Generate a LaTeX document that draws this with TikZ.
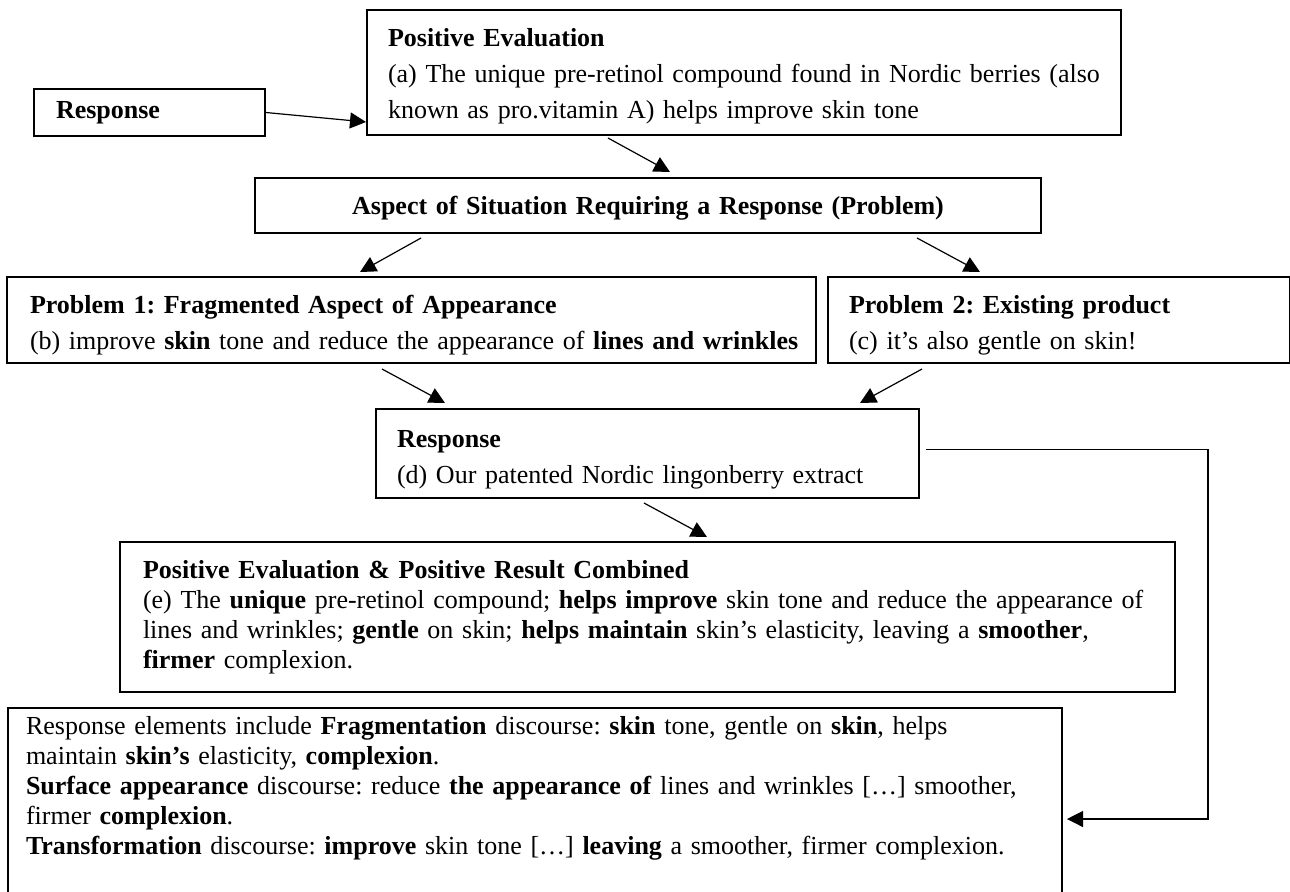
\documentclass[tikz,border=0pt]{standalone}
\usepackage{fontspec}
\setmainfont{Liberation Serif}
\frenchspacing
\usetikzlibrary{calc,arrows.meta}

\tikzset{
  box/.style={draw, line width=1pt, anchor=north west, align=left,
    inner ysep=0pt, font=\fontsize{13pt}{18pt}\selectfont},
  lowbox/.style={box, font=\fontsize{13pt}{15pt}\selectfont},
  link/.style={-{Triangle[length=8pt,width=8pt]}, line width=0.6pt},
}

\begin{document}
\begin{tikzpicture}[x=0.5pt, y=-0.5pt]
  \useasboundingbox (0,0) rectangle (1290,891);

  % the boxes
  \node [box, inner xsep=11pt, text width=93.5pt, text height=14.5pt, text depth=9pt]
    (resp-0) at (33,88) {\textbf{Response}};
  \node [box, inner xsep=10.5pt, text width=356pt, text height=18pt, text depth=44.5pt]
    (pos-eval) at (366,9) {\textbf{Positive Evaluation}\\
      \mbox{(a) The unique pre-retinol compound found in Nordic berries (also}\\
      known as pro.vitamin A) helps improve skin tone};
  \node [box, align=center, inner xsep=10pt, text width=373pt, text height=18pt, text depth=9.5pt]
    (aspect) at (254,177) {\textbf{Aspect of Situation Requiring a Response (Problem)}};
  \node [box, inner xsep=11.5pt, text width=381.5pt, text height=18pt, text depth=25pt]
    (problem-1) at (6,276) {\textbf{Problem 1: Fragmented Aspect of Appearance}\\
      \mbox{(b) improve \textbf{skin} tone and reduce the appearance of \textbf{lines and wrinkles}}};
  \node [box, inner xsep=10.5pt, text width=210pt, text height=18pt, text depth=25pt]
    (problem-2) at (827,276) {\textbf{Problem 2: Existing product}\\
      (c) it’s also gentle on skin!};
  \node [box, inner xsep=10.5pt, text width=250.5pt, text height=19pt, text depth=25.5pt]
    (resp-d) at (375,408) {\textbf{Response}\\
      (d) Our patented Nordic lingonberry extract};
  \node [lowbox, inner xsep=11.5pt, text width=504.5pt, text height=18pt, text depth=57pt]
    (combined) at (119,541) {\textbf{Positive Evaluation \& Positive Result Combined}\\
      \mbox{(e) The \textbf{unique} pre-retinol compound; \textbf{helps improve} skin tone and reduce the appearance of}\\
      \mbox{lines and wrinkles; \textbf{gentle} on skin; \textbf{helps maintain} skin’s elasticity, leaving a \textbf{smoother},}\\
      \textbf{firmer} complexion.};
  \node [lowbox, inner xsep=9pt, text width=509pt, text height=13pt, text depth=100pt]
    (elements) at (7,707) {\mbox{Response elements include \textbf{Fragmentation} discourse: \textbf{skin} tone, gentle on \textbf{skin}, helps}\\
      maintain \textbf{skin’s} elasticity, \textbf{complexion}.\\
      \mbox{\textbf{Surface appearance} discourse: reduce \textbf{the appearance of} lines and wrinkles […] smoother,}\\
      firmer \textbf{complexion}.\\
      \mbox{\textbf{Transformation} discourse: \textbf{improve} skin tone […] \textbf{leaving} a smoother, firmer complexion.}};

  % Draw the connecting arrows
  \draw [link] (resp-0.east) -- ($(pos-eval.south west)+(0,-14)$);
  \draw [link] ($(pos-eval.south west)+(242,2)$) -- ($(aspect.north west)+(416,-5)$);
  \draw [link] ($(aspect.south west)+(167,4)$) -- ($(problem-1.north west)+(354,-4)$);
  \draw [link] ($(aspect.south west)+(663,4)$) -- ($(problem-2.north west)+(153,-4)$);
  \draw [link] ($(problem-1.south west)+(376,5)$) -- ($(resp-d.north west)+(70,-5)$);
  \draw [link] ($(problem-2.south west)+(95,5)$) -- ($(resp-d.north west)+(485,-5)$);
  \draw [link] ($(resp-d.south west)+(269,4)$) -- ($(combined.north west)+(588,-4)$);
  \draw [link] ($(resp-d.east)+(6,-4)$) -- ++(282,0) |- ($(elements.north east)+(4,112)$);
\end{tikzpicture}
\end{document}
